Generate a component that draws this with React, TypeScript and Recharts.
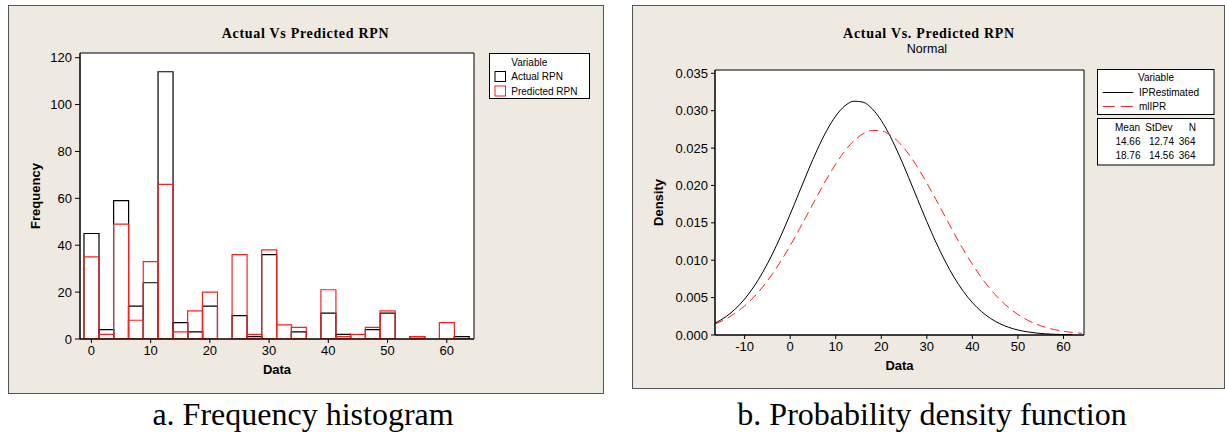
import React from "react";
import {
  BarChart,
  Bar,
  LineChart,
  Line,
  XAxis,
  YAxis,
  CartesianGrid,
  Label,
} from "recharts";

// histogram bins (bin centres), counts per bin
const bins = [
  0, 2.5, 5, 7.5, 10, 12.5, 15, 17.5, 20, 22.5, 25, 27.5, 30, 32.5, 35, 37.5,
  40, 42.5, 45, 47.5, 50, 52.5, 55, 57.5, 60, 62.5,
];
const actualRpn = [
  45, 4, 59, 14, 24, 114, 7, 3, 14, 0, 10, 1, 36, 0, 3, 0, 11, 2, 0, 4, 11, 0,
  1, 0, 0, 1,
];
const predictedRpn = [
  35, 2, 49, 8, 33, 66, 3, 12, 20, 0, 36, 2, 38, 6, 5, 0, 21, 1, 2, 5, 12, 0,
  1, 0, 7, 0,
];
const freqTicks = [0, 20, 40, 60, 80, 100, 120];

// density curves
const densityX = [
  -16.5, -14, -12, -10, -8, -6, -4, -2, 0, 2, 4, 6, 8, 10, 12, 14, 16, 18, 20,
  22, 24, 26, 28, 30, 32, 34, 36, 38, 40, 42, 44, 46, 48, 50, 52, 54, 56, 58,
  60, 62, 64,
];
const ipRestimated = [
  0.001573, 0.002493, 0.003506, 0.004811, 0.006438, 0.008408, 0.010712,
  0.013317, 0.016152, 0.019112, 0.022065, 0.024856, 0.027314, 0.029288,
  0.030639, 0.031272, 0.031141, 0.030256, 0.028681, 0.026525, 0.023935,
  0.021072, 0.0181, 0.015167, 0.012401, 0.009892, 0.0077, 0.005848, 0.004332,
  0.003131, 0.002208, 0.001519, 0.00102, 0.000668, 0.000427, 0.000266,
  0.000162, 0.000096, 0.000056, 0.000032, null,
];
const mlIPR = [
  0.00146, 0.00218, 0.002942, 0.003895, 0.005061, 0.006454, 0.008074, 0.009915,
  0.011946, 0.014127, 0.016392, 0.018662, 0.020852, 0.022864, 0.0246,
  0.025974, 0.026912, 0.027363, 0.027301, 0.02673, 0.025682, 0.024214,
  0.022402, 0.02034, 0.018121, 0.015844, 0.013593, 0.011444, 0.009455,
  0.007665, 0.006098, 0.004762, 0.003647, 0.002742, 0.002023, 0.001464,
  0.00104, 0.000725, 0.000496, 0.000333, 0.000219,
];
const densityTicks = [0, 0.005, 0.01, 0.015, 0.02, 0.025, 0.03, 0.035];
const dataTicks = [-10, 0, 10, 20, 30, 40, 50, 60];

const seriesNames = ["IPRestimated", "mlIPR"];
const means = ["14.66", "18.76"];
const stdevs = ["12.74", "14.56"];
const counts = ["364", "364"];

const histData = bins.map((bin, i) => ({
  bin,
  actual: actualRpn[i],
  predicted: predictedRpn[i],
}));

const densityData = densityX.map((x, i) => ({
  x,
  ipr: ipRestimated[i],
  ml: mlIPR[i],
}));

const SANS = "'Liberation Sans', Arial, sans-serif";
const SERIF = "'Liberation Serif', 'Times New Roman', serif";
const PANEL_BG = "#eeeae1";
const RED = "#ff1e1e";

const tickStyle = { fontSize: 13, fill: "#000", fontFamily: SANS };
const axisLabelStyle = {
  fontSize: 13,
  fontWeight: "bold",
  fill: "#000",
  fontFamily: SANS,
};

// plot frame: grid lines only on the four edges of the plot area
const frameRows = ({ offset }: any) => [offset.top, offset.top + offset.height];
const frameCols = ({ offset }: any) => [offset.left, offset.left + offset.width];

function HistogramPanel() {
  return (
    <BarChart
      width={596}
      height={389}
      data={histData}
      margin={{ top: 48, right: 130, bottom: 20, left: 22 }}
      barCategoryGap={0}
      barGap={0}
    >
      <CartesianGrid
        fill="#fff"
        stroke="#000"
        horizontalCoordinatesGenerator={frameRows}
        verticalCoordinatesGenerator={frameCols}
      />
      <XAxis
        dataKey="bin"
        interval={3}
        padding={{ left: 4, right: 5 }}
        height={35}
        tickSize={4}
        tickMargin={3}
        tick={tickStyle}
        stroke="#000"
        tickFormatter={(v) => String(v)}
      >
        <Label value="Data" position="insideBottom" offset={0} style={axisLabelStyle} />
      </XAxis>
      <XAxis xAxisId="p" dataKey="bin" hide padding={{ left: 4, right: 5 }} />
      <YAxis
        domain={[0, 122]}
        ticks={freqTicks}
        width={50}
        tickSize={5}
        tickMargin={3}
        tick={tickStyle}
        stroke="#000"
        allowDataOverflow
      >
        <Label
          value="Frequency"
          angle={-90}
          position="insideLeft"
          offset={5}
          style={{ ...axisLabelStyle, textAnchor: "middle" }}
        />
      </YAxis>
      <Bar
        dataKey="actual"
        fill="none"
        stroke="#000"
        strokeWidth={1.2}
        isAnimationActive={false}
      />
      <Bar
        xAxisId="p"
        dataKey="predicted"
        fill="none"
        stroke={RED}
        strokeWidth={1.2}
        isAnimationActive={false}
      />
    </BarChart>
  );
}

function DensityPanel() {
  return (
    <LineChart
      width={593}
      height={384}
      data={densityData}
      margin={{ top: 65, right: 141, bottom: 19, left: 23 }}
    >
      <CartesianGrid
        fill="#fff"
        stroke="#000"
        horizontalCoordinatesGenerator={frameRows}
        verticalCoordinatesGenerator={frameCols}
      />
      <XAxis
        dataKey="x"
        type="number"
        domain={[-16.5, 64.5]}
        ticks={dataTicks}
        allowDataOverflow
        height={35}
        tickSize={4}
        tickMargin={3}
        tick={tickStyle}
        stroke="#000"
      >
        <Label value="Data" position="insideBottom" offset={0} style={axisLabelStyle} />
      </XAxis>
      <YAxis
        domain={[0, 0.035441]}
        ticks={densityTicks}
        allowDataOverflow
        width={60}
        tickSize={4}
        tickMargin={3}
        tick={tickStyle}
        stroke="#000"
        tickFormatter={(v) => Number(v).toFixed(3)}
      >
        <Label
          value="Density"
          angle={-90}
          position="insideLeft"
          offset={3}
          style={{ ...axisLabelStyle, textAnchor: "middle" }}
        />
      </YAxis>
      <Line
        dataKey="ipr"
        type="monotone"
        stroke="#000"
        strokeWidth={1}
        dot={false}
        isAnimationActive={false}
      />
      <Line
        dataKey="ml"
        type="monotone"
        stroke={RED}
        strokeWidth={1}
        strokeDasharray="9 5"
        dot={false}
        isAnimationActive={false}
      />
    </LineChart>
  );
}

function Overlay() {
  const t10 = { fontFamily: SANS, fontSize: 10, fill: "#000" };
  return (
    <svg
      width={1225}
      height={436}
      style={{ position: "absolute", left: 0, top: 0, pointerEvents: "none" }}
    >
      {/* titles */}
      <text
        x={305.5}
        y={38}
        textAnchor="middle"
        fontFamily={SERIF}
        fontWeight="bold"
        fontSize={14}
        letterSpacing={0.7}
      >
        Actual Vs Predicted RPN
      </text>
      <text
        x={929}
        y={37.5}
        textAnchor="middle"
        fontFamily={SERIF}
        fontWeight="bold"
        fontSize={14}
        letterSpacing={0.7}
      >
        Actual Vs. Predicted RPN
      </text>
      <text x={927} y={53} textAnchor="middle" fontFamily={SANS} fontSize={12.5}>
        Normal
      </text>

      {/* histogram legend */}
      <rect x={489.5} y={53.5} width={100} height={45} fill="#fff" stroke="#000" />
      <text x={511.3} y={65.5} {...t10}>Variable</text>
      <rect x={495} y={71.5} width={10.5} height={10} fill="none" stroke="#000" />
      <text x={511.3} y={80} {...t10}>Actual RPN</text>
      <rect x={495} y={86} width={10.5} height={10} fill="none" stroke={RED} />
      <text x={511.3} y={94.5} {...t10}>Predicted RPN</text>

      {/* density legend */}
      <rect x={1097.5} y={69.5} width={116.5} height={45} fill="#fff" stroke="#000" />
      <text x={1156} y={81} textAnchor="middle" {...t10}>Variable</text>
      <line x1={1102.7} x2={1133.3} y1={92.5} y2={92.5} stroke="#000" />
      <line
        x1={1102.7}
        x2={1133.3}
        y1={106.5}
        y2={106.5}
        stroke={RED}
        strokeDasharray="12 6"
      />
      <text x={1139} y={96} {...t10}>{seriesNames[0]}</text>
      <text x={1139} y={109.5} {...t10}>{seriesNames[1]}</text>

      <rect x={1097.5} y={118.5} width={116.5} height={46.5} fill="#fff" stroke="#000" />
      <text x={1140} y={130.5} textAnchor="end" {...t10}>Mean</text>
      <text x={1172.5} y={130.5} textAnchor="end" {...t10}>StDev</text>
      <text x={1196} y={130.5} textAnchor="end" {...t10}>N</text>
      {means.map((m, i) => (
        <g key={m + i}>
          <text x={1140.5} y={144.5 + i * 14.5} textAnchor="end" {...t10}>{m}</text>
          <text x={1174} y={144.5 + i * 14.5} textAnchor="end" {...t10}>{stdevs[i]}</text>
          <text x={1195.5} y={144.5 + i * 14.5} textAnchor="end" {...t10}>{counts[i]}</text>
        </g>
      ))}

      {/* captions */}
      <text x={303} y={425} textAnchor="middle" fontFamily={SERIF} fontSize={32}>
        a. Frequency histogram
      </text>
      <text x={932} y={425} textAnchor="middle" fontFamily={SERIF} fontSize={32}>
        b. Probability density function
      </text>
    </svg>
  );
}

export default function App() {
  return (
    <div
      style={{
        position: "relative",
        width: 1225,
        height: 436,
        background: "#fff",
        overflow: "hidden",
      }}
    >
      <style>{"body{margin:0}"}</style>
      <div
        style={{
          position: "absolute",
          left: 8,
          top: 5,
          width: 596,
          height: 389,
          boxSizing: "border-box",
          background: PANEL_BG,
          border: "1px solid #555",
        }}
      />
      <div
        style={{
          position: "absolute",
          left: 632,
          top: 5,
          width: 593,
          height: 384,
          boxSizing: "border-box",
          background: PANEL_BG,
          border: "1px solid #555",
        }}
      />
      <div style={{ position: "absolute", left: 8, top: 5 }}>
        <HistogramPanel />
      </div>
      <div style={{ position: "absolute", left: 632, top: 5 }}>
        <DensityPanel />
      </div>
      <Overlay />
    </div>
  );
}
